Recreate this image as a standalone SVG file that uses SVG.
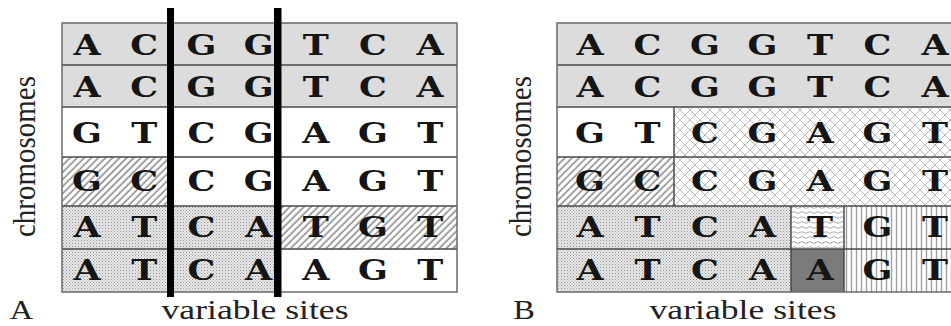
<svg xmlns="http://www.w3.org/2000/svg" width="951" height="326" viewBox="0 0 951 326">
  <defs>
    <pattern id="hatch" patternUnits="userSpaceOnUse" width="5" height="5" patternTransform="rotate(45)">
      <rect width="5" height="5" fill="#fff"/>
      <line x1="1.2" y1="0" x2="1.2" y2="5" stroke="#8c8c8c" stroke-width="1.6"/>
    </pattern>
    <pattern id="stipple" patternUnits="userSpaceOnUse" width="3" height="3">
      <rect width="3" height="3" fill="#e8e8e8"/>
      <rect x="0" y="0" width="1" height="1" fill="#959595"/>
      <rect x="1.5" y="1.5" width="1" height="1" fill="#aaaaaa"/>
    </pattern>
    <pattern id="cross" patternUnits="userSpaceOnUse" width="10" height="10">
      <rect width="10" height="10" fill="#fff"/>
      <path d="M0,0 L10,10 M10,0 L0,10" stroke="#b4b4b4" stroke-width="0.9" fill="none"/>
    </pattern>
    <pattern id="wavy" patternUnits="userSpaceOnUse" width="8" height="5">
      <rect width="8" height="5" fill="#fff"/>
      <path d="M0,2.5 Q2,0.8 4,2.5 T8,2.5" stroke="#a0a0a0" stroke-width="0.9" fill="none"/>
    </pattern>
    <pattern id="vstripe" patternUnits="userSpaceOnUse" width="5" height="5">
      <rect width="5" height="5" fill="#fff"/>
      <line x1="1.5" y1="0" x2="1.5" y2="5" stroke="#a0a0a0" stroke-width="1.4"/>
    </pattern>
  </defs>
  <style>
    .gray { fill: #dcdcdc; }
    .hatch { fill: url(#hatch); }
    .stipple { fill: url(#stipple); }
    .cross { fill: url(#cross); }
    .wavy { fill: url(#wavy); }
    .vstripe { fill: url(#vstripe); }
    .dark { fill: #7b7b7b; }
    .rowline { stroke: #4a4a4a; stroke-width: 1.5; fill: none; }
    .outer { stroke: #6a6a6a; stroke-width: 1.5; fill: none; }
    .bar { fill: #000; }
    .base { font-family: "DejaVu Serif", "Liberation Serif", serif; font-weight: bold; font-size: 28px; fill: #151515; text-anchor: middle; }
    .label { font-family: "Liberation Serif", "Times New Roman", serif; font-size: 27px; fill: #222; text-anchor: middle; }
    .vlabel { font-size: 29px; }
  </style>

  <!-- Panel A -->
  <g id="panelA">
    <rect x="62" y="23" width="395" height="269" fill="#fff"/>
    <rect class="gray" x="62" y="23" width="395" height="84"/>
    <rect class="hatch" x="62" y="157" width="108" height="49"/>
    <rect class="stipple" x="62" y="206" width="215" height="86"/>
    <rect class="hatch" x="277" y="206" width="180" height="43"/>
    <path class="rowline" d="M62,65 H457 M62,107 H457 M62,157 H457 M62,206 H457 M62,249 H457"/>
    <rect class="outer" x="62" y="23" width="395" height="269"/>
    <g transform="scale(1.25,1)">
      <text class="base" x="69.6 115.36 161.12 206.88 252.64 298.4 344.16" y="55">ACGGTCA</text>
      <text class="base" x="69.6 115.36 161.12 206.88 252.64 298.4 344.16" y="97">ACGGTCA</text>
      <text class="base" x="69.6 115.36 161.12 206.88 252.64 298.4 344.16" y="143">GTCGAGT</text>
      <text class="base" x="69.6 115.36 161.12 206.88 252.64 298.4 344.16" y="191">GCCGAGT</text>
      <text class="base" x="69.6 115.36 161.12 206.88 252.64 298.4 344.16" y="237">ATCATGT</text>
      <text class="base" x="69.6 115.36 161.12 206.88 252.64 298.4 344.16" y="280">ATCAAGT</text>
    </g>
    <rect class="bar" x="167" y="8" width="7" height="289"/>
    <rect class="bar" x="274" y="8" width="7.5" height="289"/>
    <text class="label vlabel" transform="translate(35,156.5) rotate(-90) scale(1,1.12)" x="0" y="0">chromosomes</text>
    <text class="label" transform="translate(255,319) scale(1.32,1)" x="0" y="0">variable sites</text>
    <text class="label" transform="translate(21.5,319) scale(1.2,1)" x="0" y="0">A</text>
  </g>

  <!-- Panel B -->
  <g id="panelB">
    <rect x="557" y="23" width="400" height="269" fill="#fff"/>
    <rect class="gray" x="557" y="23" width="400" height="84"/>
    <rect class="cross" x="674" y="107" width="283" height="99"/>
    <rect class="hatch" x="557" y="157" width="117" height="49"/>
    <rect class="stipple" x="557" y="206" width="234" height="86"/>
    <rect class="wavy" x="791" y="206" width="53" height="43"/>
    <rect class="dark" x="791" y="249" width="53" height="43"/>
    <rect class="vstripe" x="844" y="206" width="113" height="86"/>
    <path class="rowline" d="M557,65 H957 M557,107 H957 M557,157 H957 M557,206 H957 M557,249 H957 M674,107 V206 M791,206 V292 M844,206 V292"/>
    <rect class="outer" x="557" y="23" width="400" height="269"/>
    <g transform="scale(1.25,1)">
      <text class="base" x="472 518 564 610 656 702 748" y="55">ACGGTCA</text>
      <text class="base" x="472 518 564 610 656 702 748" y="97">ACGGTCA</text>
      <text class="base" x="472 518 564 610 656 702 748" y="143">GTCGAGT</text>
      <text class="base" x="472 518 564 610 656 702 748" y="191">GCCGAGT</text>
      <text class="base" x="472 518 564 610 656 702 748" y="237">ATCATGT</text>
      <text class="base" x="472 518 564 610 656 702 748" y="280">ATCAAGT</text>
    </g>
    <text class="label vlabel" transform="translate(531,156.5) rotate(-90) scale(1,1.12)" x="0" y="0">chromosomes</text>
    <text class="label" transform="translate(743,319) scale(1.32,1)" x="0" y="0">variable sites</text>
    <text class="label" transform="translate(524,319) scale(1.2,1)" x="0" y="0">B</text>
  </g>

  <g id="connectors"/>
</svg>
